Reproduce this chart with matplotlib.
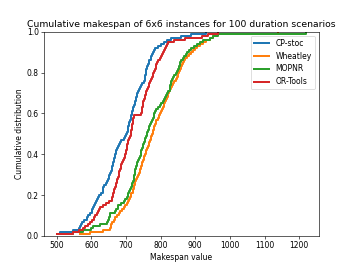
import numpy as np
import matplotlib
matplotlib.use("Agg")
import matplotlib.pyplot as plt

labels = ["CP-stoc", "Wheatley", "MOPNR", "OR-Tools"]
colors = ["#1f77b4", "#ff7f0e", "#2ca02c", "#d62728"]

cp_stoc = [500, 510, 548, 563, 566, 570, 573, 580, 587, 590,
           596, 601, 603, 606, 609, 611, 614, 617, 619, 621,
           627, 633, 634, 635, 636, 641, 645, 648, 650, 652,
           655, 657, 659, 660, 662, 663, 665, 666, 668, 669,
           671, 672, 675, 677, 680, 684, 686, 693, 698, 701,
           703, 705, 706, 707, 708, 709, 711, 713, 714, 716,
           718, 719, 721, 723, 725, 727, 728, 729, 731, 732,
           734, 737, 739, 743, 746, 752, 754, 755, 756, 757,
           758, 759, 761, 763, 765, 767, 771, 773, 776, 778,
           781, 783, 792, 802, 810, 818, 831, 860, 889, 932]

wheatley = [568, 597, 635, 654, 656, 658, 660, 664, 669, 674,
            679, 683, 688, 694, 698, 702, 707, 709, 711, 713,
            714, 720, 721, 723, 724, 725, 727, 730, 732, 735,
            737, 739, 741, 743, 745, 747, 749, 751, 753, 755,
            757, 759, 761, 763, 765, 767, 769, 771, 773, 775,
            777, 778, 780, 782, 784, 786, 788, 791, 794, 797,
            800, 803, 806, 809, 811, 812, 815, 818, 820, 822,
            824, 826, 830, 834, 837, 840, 843, 846, 849, 851,
            853, 855, 858, 861, 864, 866, 869, 875, 882, 888,
            893, 898, 906, 914, 922, 930, 942, 952, 961, 1140]

mopnr = [505, 548, 577, 600, 606, 626, 645, 648, 651, 653,
         654, 669, 672, 676, 678, 686, 693, 697, 702, 705,
         707, 709, 712, 714, 716, 718, 720, 722, 723, 724,
         725, 725, 727, 729, 731, 733, 735, 737, 740, 742,
         743, 744, 746, 748, 750, 752, 754, 756, 758, 760,
         761, 763, 765, 767, 769, 772, 775, 778, 780, 782,
         784, 787, 792, 797, 802, 807, 810, 813, 816, 819,
         822, 826, 827, 828, 829, 831, 834, 837, 840, 843,
         846, 850, 852, 855, 857, 860, 864, 868, 872, 876,
         881, 889, 897, 905, 913, 922, 942, 950, 965, 1220]

or_tools = [500, 548, 563, 575, 582, 590, 597, 603, 608, 611,
            615, 619, 622, 626, 635, 642, 650, 659, 661, 662,
            663, 664, 666, 668, 670, 672, 674, 675, 677, 679,
            680, 681, 683, 685, 687, 689, 691, 694, 696, 698,
            700, 701, 702, 703, 704, 705, 707, 710, 712, 713,
            714, 715, 716, 717, 718, 719, 720, 721, 722, 744,
            745, 746, 747, 748, 749, 750, 752, 754, 756, 757,
            759, 760, 763, 765, 767, 769, 773, 775, 777, 779,
            781, 783, 786, 788, 790, 793, 797, 800, 803, 806,
            809, 812, 815, 818, 821, 838, 869, 918, 936, 965]

series = [cp_stoc, wheatley, mopnr, or_tools]

fig, ax = plt.subplots(figsize=(354 / 55.3, 265 / 55.3), dpi=55.3)
for vals, lab, col in zip(series, labels, colors):
    v = np.sort(np.array(vals, dtype=float))
    y = np.arange(1, len(v) + 1) / len(v)
    ax.step(v, y, where="post", color=col, lw=2.6, label=lab)

ax.set_ylim(0, 1.0)
ax.set_xticks(np.arange(500, 1201, 100))
ax.set_title("Cumulative makespan of 6x6 instances for 100 duration scenarios")
ax.set_xlabel("Makespan value")
ax.set_ylabel("Cumulative distribution")
ax.legend(loc="upper right")
fig.savefig("out.png", dpi=55.3)
